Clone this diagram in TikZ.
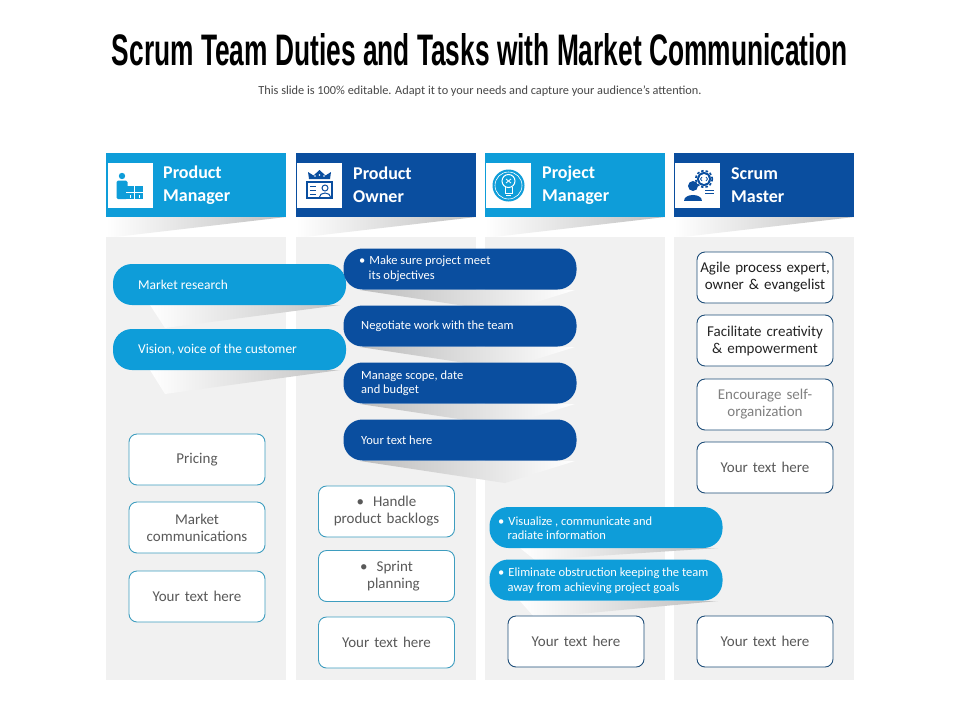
\documentclass[tikz,border=0pt]{standalone}
\usepackage{fontspec}
\setmainfont{Carlito}
\newfontfamily\titlefont{Liberation Sans}
\definecolor{lblue}{HTML}{0E9DD9}
\definecolor{dblue}{HTML}{0A4E9F}
\definecolor{colbg}{HTML}{F1F1F1}
\definecolor{tealb}{HTML}{3E9DBF}
\definecolor{navyb}{HTML}{1F4E79}
\definecolor{txtgray}{HTML}{595959}
\tikzset{
  hdr/.style={minimum width=180pt, minimum height=64pt, inner sep=0pt, draw=none},
  iconbox/.style={fill=white, minimum size=45pt, inner sep=0pt},
  hlabel/.style={text=white, font=\fontsize{18}{23}\selectfont\bfseries, align=left, inner sep=0pt},
  colbox/.style={fill=colbg, minimum width=180pt, minimum height=443pt, inner sep=0pt, anchor=north west},
  pill/.style={minimum width=233pt, minimum height=41pt, rounded corners=19pt, inner sep=0pt},
  pilltext/.style={text=white, font=\fontsize{12.5}{14.5}\selectfont, align=left, inner sep=0pt, anchor=west},
  tbox/.style={draw, fill=white, rounded corners=8pt, line width=0.9pt, minimum width=136pt, minimum height=51pt,
     text width=134pt, align=center, inner sep=0pt, text=txtgray, font=\fontsize{15}{17}\selectfont},
}
\begin{document}
\begin{tikzpicture}[x=1pt,y=-1pt]
\useasboundingbox (0,0) rectangle (960,720);
\fill[white] (0,0) rectangle (960,720);

% title
\node[anchor=base, inner sep=0pt] (title) at (480,65) {\resizebox{736pt}{32pt}{\titlefont\bfseries Scrum Team Duties and Tasks with Market Communication}};
\node[anchor=base, inner sep=0pt, text=black!72, font=\fontsize{12.3}{14}\selectfont] (sub) at (480,94) {This slide is 100\% editable. Adapt it to your needs and capture your audience's attention.};

% header shadows
\foreach \x in {106,296,485,674}{
  \shade[left color=white, right color=black!25] (\x,217) -- (\x+180,217) -- (\x,238) -- cycle;
}

% column backgrounds
\node[colbox] (c1) at (106,237) {};
\node[colbox] (c2) at (296,237) {};
\node[colbox] (c3) at (485,237) {};
\node[colbox] (c4) at (674,237) {};

% headers
\node[hdr, fill=lblue] (h1) at (196,185) {};
\node[hdr, fill=dblue] (h2) at (386,185) {};
\node[hdr, fill=lblue] (h3) at (575,185) {};
\node[hdr, fill=dblue] (h4) at (764,185) {};
\node[iconbox] (i1) at (130.5,185.5) {};
\node[iconbox] (i2) at (319.5,185.5) {};
\node[iconbox] (i3) at (508.5,185.5) {};
\node[iconbox] (i4) at (697.5,185.5) {};
\node[hlabel, anchor=west] (t1) at (163,185) {Product\\Manager};
\node[hlabel, anchor=west] (t2) at (353,185) {Product\\Owner};
\node[hlabel, anchor=west] (t3) at (542,185) {Project\\Manager};
\node[hlabel, anchor=west] (t4) at (731,185) {Scrum\\Master};

% icon 1: person and boxes
\fill[lblue] (122,176) circle (3.2);
\fill[lblue, rounded corners=1.5pt] (116.5,180.5) rectangle (127.5,199);
\fill[lblue] (126,186) rectangle (143,199);
\draw[white, line width=0.8pt] (126,192.5) -- (143,192.5) (134.5,186) -- (134.5,199);
\draw[white, line width=0.6pt] (130,195) -- (130,198) (139,195) -- (139,198);
% icon 2: crown and card
\fill[dblue] (309,179) -- (308,172) -- (313.5,175.5) -- (319.5,170) -- (325.5,175.5) -- (331,172) -- (330,179) -- cycle;
\fill[white] (315,176) circle (0.8) (319.5,175) circle (0.8) (324,176) circle (0.8);
\draw[dblue, line width=1.3pt] (307,182) rectangle (332,198);
\draw[dblue, line width=1pt] (325,188) circle (3) (319.5,197) arc (180:360:5.5 and 4);
\draw[dblue, line width=1pt] (310,186) -- (316,186) (310,190) -- (316,190) (310,194) -- (316,194);
% icon 3: bulb in circle
\fill[lblue] (508.5,185.5) circle (16);
\draw[white, line width=0.6pt] (508.5,185.5) circle (13.5);
\draw[white, line width=1pt] (508.5,181) circle (6.5);
\draw[white, line width=1pt] (505,187) -- (505,193) -- (512,193) -- (512,187) (506,195.5) -- (511,195.5);
\draw[white, line width=0.8pt] (506,179) -- (511,183) (511,179) -- (506,183);
% icon 4: person and gear
\draw[dblue, line width=1.6pt, dash pattern=on 2.5pt off 2pt] (704,179) circle (8.3);
\fill[dblue] (704,179) circle (7);
\fill[white] (704,179) circle (5);
\draw[dblue, line width=0.8pt] (702,177) -- (700.5,179) -- (702,181) (706,177) -- (707.5,179) -- (706,181);
\fill[dblue] (693,186) circle (5);
\fill[dblue] (684,201) .. controls (684,193) and (702,193) .. (702,201) -- cycle;
\draw[dblue, line width=1pt] (705,190) -- (714,190) (705,193.5) -- (714,193.5);

% pill shadows
\shade[left color=white, right color=black!24] (150,305) -- (340,305) -- (165,328) -- cycle;
\shade[left color=white, right color=black!24] (150,370) -- (340,370) -- (165,394) -- cycle;
\foreach \y in {290,347,404,461}{
  \shade[left color=black!26, right color=white] (360,\y) -- (575,\y) -- (505,\y+22) -- cycle;
}
\shade[left color=white, right color=black!26] (520,548) -- (718,548) -- (535,560) -- cycle;
\shade[left color=white, right color=black!26] (520,601) -- (718,601) -- (535,618) -- cycle;

% left pills
\node[pill, fill=lblue] (p1) at (229.5,284.5) {};
\node[pill, fill=lblue] (p2) at (229.5,349.5) {};
\node[pilltext, font=\fontsize{13.5}{15}\selectfont] (p1t) at (138,284.5) {Market research};
\node[pilltext, font=\fontsize{13.5}{15}\selectfont] (p2t) at (138,349.5) {Vision, voice of the customer};

% dark pills
\node[pill, fill=dblue] (d1) at (460,269) {};
\node[pill, fill=dblue] (d2) at (460,326) {};
\node[pill, fill=dblue] (d3) at (460,383) {};
\node[pill, fill=dblue] (d4) at (460,440) {};
\node[pilltext] (d1t) at (359,268.5) {\textbullet\hspace{4pt}Make sure project meet\\\hspace*{9.5pt}its objectives};
\node[pilltext] (d2t) at (361,326) {Negotiate work with the team};
\node[pilltext] (d3t) at (361,383) {Manage scope, date\\and budget};
\node[pilltext] (d4t) at (361,440) {Your text here};

% project manager pills
\node[pill, fill=lblue] (m1) at (606,527.5) {};
\node[pill, fill=lblue] (m2) at (606,580) {};
\node[pilltext] (m1t) at (498,528) {\textbullet\hspace{4pt}Visualize , communicate and\\\hspace*{9.5pt}radiate information};
\node[pilltext] (m2t) at (498,580.5) {\textbullet\hspace{4pt}Eliminate obstruction keeping the team\\\hspace*{9.5pt}away from achieving project goals};

% boxes column 1
\node[tbox, draw=tealb] (b11) at (197,459.5) {Pricing};
\node[tbox, draw=tealb] (b12) at (197,527.5) {Market\\communications};
\node[tbox, draw=tealb] (b13) at (197,596.5) {Your text here};
% boxes column 2
\node[tbox, draw=tealb] (b21) at (386.5,511.5) {\textbullet\hspace{9pt}Handle\\product backlogs};
\node[tbox, draw=tealb] (b22) at (386.5,576) {\textbullet\hspace{9pt}Sprint\\\hspace*{14pt}planning};
\node[tbox, draw=tealb] (b23) at (386.5,642.5) {Your text here};
% box column 3
\node[tbox, draw=navyb] (b31) at (576,641.5) {Your text here};
% boxes column 4
\node[tbox, draw=navyb, text=black!88] (b41) at (765,277.5) {Agile process expert,\\owner \& evangelist};
\node[tbox, draw=navyb, text=black!85] (b42) at (765,340.5) {Facilitate creativity\\\& empowerment};
\node[tbox, draw=navyb, text=black!50] (b43) at (765,404.5) {Encourage self-\\organization};
\node[tbox, draw=navyb] (b44) at (765,467.5) {Your text here};
\node[tbox, draw=navyb] (b45) at (765,641.5) {Your text here};
\end{tikzpicture}
\end{document}
